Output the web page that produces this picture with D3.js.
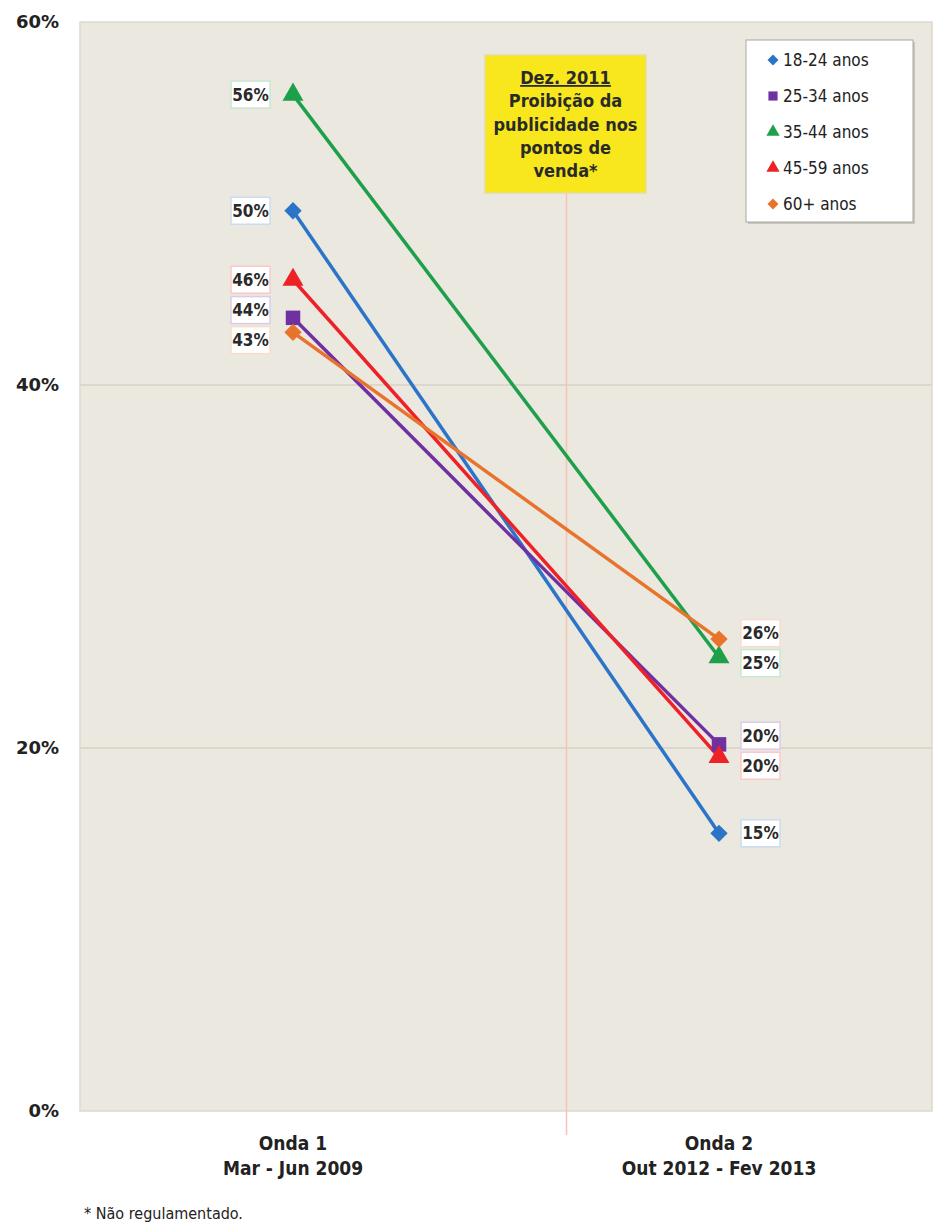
<!DOCTYPE html>
<html>
<head>
<meta charset="utf-8">
<script src="https://cdn.jsdelivr.net/npm/d3@7"></script>
<style>
  body { margin: 0; background: #fff; }
  svg { display: block; }
</style>
</head>
<body>
<div id="chart"></div>
<script>
// data
const waves = ["Onda 1", "Onda 2"];
const waveDates = ["Mar - Jun 2009", "Out 2012 - Fev 2013"];
const groups = ["18-24 anos", "25-34 anos", "35-44 anos", "45-59 anos", "60+ anos"];
const onda1 = [49.6, 43.7, 56.0, 45.8, 42.9];
const onda2 = [15.3, 20.2, 25.0, 19.5, 26.0];
const yTicks = [0, 20, 40, 60];
const noteLines = ["Dez. 2011", "Proibição da", "publicidade nos", "pontos de", "venda*"];
const footnote = "* Não regulamentado.";

const colors = ["#2b74c7", "#7030a0", "#1e9f4a", "#ee2126", "#e8742c"];
// diamonds are squares turned 45 degrees
const shapes = [d3.symbolSquare, d3.symbolSquare, d3.symbolTriangle, d3.symbolTriangle, d3.symbolSquare];
const turns = [45, 0, 0, 0, 45];
const sizes = [150, 210, 190, 190, 150];

const width = 938, height = 1226,
      margin = ({ top: 22, right: 6, bottom: 115, left: 80 });

const svg = d3.select("#chart")
  .append("svg")
  .attr("width", width)
  .attr("height", height);

const x = d3.scaleBand()
  .domain(waves)
  .range([margin.left, width - margin.right]);

const y = d3.scaleLinear()
  .domain([0, 60])
  .range([height - margin.bottom, margin.top]);

// plot background
svg.append("rect")
  .attr("x", margin.left)
  .attr("y", margin.top)
  .attr("width", width - margin.right - margin.left)
  .attr("height", y(0) - margin.top)
  .attr("fill", "#ebe8e0")
  .attr("stroke", "#dcd9d0")
  .attr("stroke-width", 1.5);

// gridlines
svg.append("g")
  .selectAll("line")
  .data(yTicks.filter(t => t > 0 && t < 60))
  .join("line")
  .attr("x1", margin.left)
  .attr("x2", width - margin.right)
  .attr("y1", d => y(d))
  .attr("y2", d => y(d))
  .attr("stroke", "#d6d2c6")
  .attr("stroke-width", 1.5);

// y axis labels
const yAxis = svg.append("g")
  .attr("transform", `translate(${margin.left - 18},0)`)
  .call(d3.axisLeft(y).tickValues(yTicks).tickFormat(d => d + "%").tickSize(0));
yAxis.select(".domain").remove();
yAxis.selectAll("text")
  .attr("font-family", "'DejaVu Sans', sans-serif")
  .attr("font-weight", "bold")
  .attr("font-size", 18)
  .attr("fill", "#222");

// vertical marker line (Dez. 2011), under the note box
const box = { x: 485, y: 55, w: 161, h: 138 };
const xNote = box.x + box.w / 2 + 1;
svg.append("line")
  .attr("x1", xNote).attr("x2", xNote)
  .attr("y1", box.y + box.h)
  .attr("y2", y(0) + 24)
  .attr("stroke", "#f6c4b4")
  .attr("stroke-width", 1.5);

// x axis labels
const xAxis = svg.append("g");
waves.forEach((w, i) => {
  const t = xAxis.append("text")
    .attr("x", x(w) + x.bandwidth() / 2)
    .attr("y", y(0) + 39)
    .attr("text-anchor", "middle")
    .attr("font-family", "'DejaVu Sans Condensed', 'DejaVu Sans', sans-serif")
    .attr("font-weight", "bold")
    .attr("font-size", 19)
    .attr("fill", "#222");
  t.append("tspan").attr("x", x(w) + x.bandwidth() / 2).text(w);
  t.append("tspan").attr("x", x(w) + x.bandwidth() / 2).attr("dy", 25).text(waveDates[i]);
});

// lines
const series = groups.map((g, i) => ({
  name: g, color: colors[i], shape: shapes[i], turn: turns[i], size: sizes[i],
  values: [{ wave: waves[0], v: onda1[i] }, { wave: waves[1], v: onda2[i] }]
}));

const line = d3.line()
  .x(d => x(d.wave) + x.bandwidth() / 2)
  .y(d => y(d.v));

svg.append("g")
  .selectAll("path")
  .data(series)
  .join("path")
  .attr("d", d => line(d.values))
  .attr("fill", "none")
  .attr("stroke", d => d.color)
  .attr("stroke-width", 3.5);

// markers
series.forEach(s => {
  svg.append("g")
    .selectAll("path")
    .data(s.values)
    .join("path")
    .attr("transform", d => `translate(${x(d.wave) + x.bandwidth() / 2},${y(d.v)}) rotate(${s.turn})`)
    .attr("d", d3.symbol().type(s.shape).size(s.size))
    .attr("fill", s.color);
});

// data labels, spread apart so they don't overlap
function spread(items, gap) {
  items.sort((a, b) => a.y - b.y);
  for (let k = 0; k < 50; k++) {
    for (let i = 1; i < items.length; i++) {
      const d = items[i].y - items[i - 1].y;
      if (d < gap) {
        const push = (gap - d) / 2;
        items[i - 1].y -= push;
        items[i].y += push;
      }
    }
  }
  return items;
}

waves.forEach((w, wi) => {
  const cx = x(w) + x.bandwidth() / 2;
  const items = spread(series.map(s => ({
    s, v: s.values[wi].v, y: y(s.values[wi].v)
  })), 30);
  items.forEach(it => {
    const bw = 39, bh = 27;
    const bx = wi === 0 ? cx - 23 - bw : cx + 22;
    const g = svg.append("g");
    g.append("rect")
      .attr("x", bx)
      .attr("y", it.y - bh / 2)
      .attr("width", bw)
      .attr("height", bh)
      .attr("fill", "#fff")
      .attr("stroke", d3.interpolateRgb(it.s.color, "#fff")(0.75))
      .attr("stroke-width", 1.5);
    g.append("text")
      .attr("x", bx + bw / 2)
      .attr("y", it.y)
      .attr("dy", "0.36em")
      .attr("text-anchor", "middle")
      .attr("font-family", "'DejaVu Sans Condensed', 'DejaVu Sans', sans-serif")
      .attr("font-weight", "bold")
      .attr("font-size", 17)
      .attr("fill", "#2a2a2a")
      .text(Math.round(it.v) + "%");
  });
});

// annotation box
svg.append("rect")
  .attr("x", box.x).attr("y", box.y)
  .attr("width", box.w).attr("height", box.h)
  .attr("fill", "#f8e71c")
  .attr("stroke", "#e6dca0")
  .attr("stroke-width", 1.5);

const note = svg.append("text")
  .attr("text-anchor", "middle")
  .attr("font-family", "'DejaVu Sans Condensed', 'DejaVu Sans', sans-serif")
  .attr("font-weight", "bold")
  .attr("font-size", 18)
  .attr("fill", "#2a2a2a");
noteLines.forEach((t, i) => {
  note.append("tspan")
    .attr("x", box.x + box.w / 2)
    .attr("y", box.y + 29 + i * 23.3)
    .attr("text-decoration", i === 0 ? "underline" : null)
    .text(t);
});

// legend
const legend = svg.append("g").attr("transform", "translate(746,40)");
legend.append("rect")
  .attr("x", 2).attr("y", 2)
  .attr("width", 167).attr("height", 182)
  .attr("fill", "#c9c6be");
legend.append("rect")
  .attr("width", 167).attr("height", 182)
  .attr("fill", "#fff")
  .attr("stroke", "#a9a6a0")
  .attr("stroke-width", 1);

series.forEach((s, i) => {
  const row = legend.append("g").attr("transform", `translate(27,${20 + i * 36})`);
  row.append("path")
    .attr("transform", `rotate(${s.turn})`)
    .attr("d", d3.symbol().type(s.shape).size(s.size * 0.4))
    .attr("fill", s.color);
  row.append("text")
    .attr("x", 10)
    .attr("dy", "0.36em")
    .attr("font-family", "'DejaVu Sans Condensed', 'DejaVu Sans', sans-serif")
    .attr("font-size", 17)
    .attr("fill", "#222")
    .text(s.name);
});

// footnote
svg.append("text")
  .attr("x", 84)
  .attr("y", 1219)
  .attr("font-family", "'DejaVu Sans Condensed', 'DejaVu Sans', sans-serif")
  .attr("font-size", 16)
  .attr("fill", "#222")
  .text(footnote);
</script>
</body>
</html>
